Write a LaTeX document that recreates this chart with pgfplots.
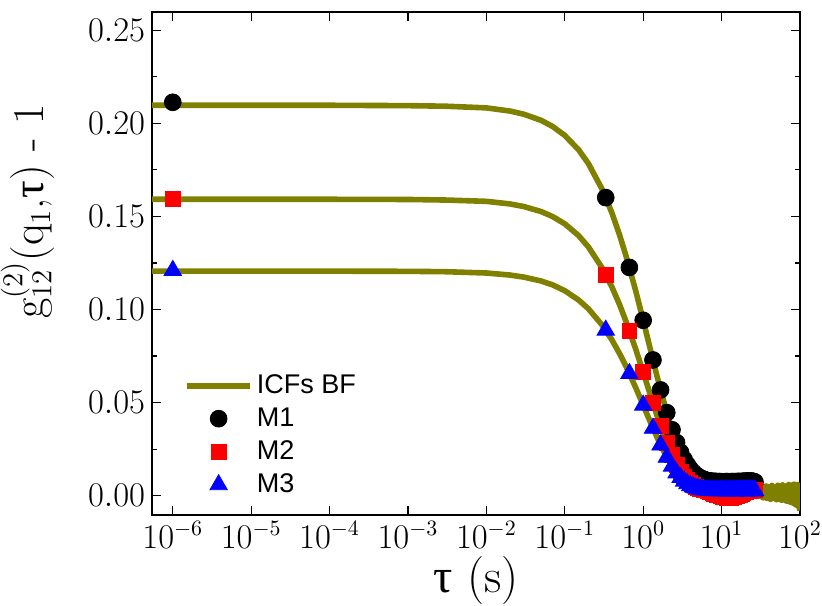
\documentclass[border=0pt]{standalone}
\usepackage{pgfplots}
\pgfplotsset{compat=1.18}
\usepackage{pgfplotstable}
\usepackage{fontspec}
\newfontfamily\legfont{Liberation Sans}
\newfontfamily\grk{Liberation Serif}
\definecolor{icf}{RGB}{128,128,0}

\pgfplotstableread{
t m1 m2 m3
1e-6 0.2113 0.1595 0.1210
0.333 0.1601 0.1188 0.0889
0.667 0.1226 0.0886 0.0656
1.000 0.0942 0.0663 0.0486
1.333 0.0729 0.0497 0.0362
1.667 0.0568 0.0375 0.0272
2.000 0.0446 0.0284 0.0206
2.333 0.0354 0.0217 0.0158
2.667 0.0285 0.0167 0.0122
3.000 0.0233 0.0130 0.0097
3.333 0.0194 0.0103 0.0078
3.667 0.0165 0.0083 0.0064
4.000 0.0142 0.0068 0.0054
4.333 0.0125 0.0057 0.0047
4.667 0.0113 0.0048 0.0041
5.000 0.0103 0.0042 0.0038
5.333 0.0096 0.0038 0.0035
5.667 0.0091 0.0034 0.0033
6.000 0.0087 0.0031 0.0031
6.333 0.0083 0.0028 0.0030
6.667 0.0081 0.0025 0.0029
7.000 0.0079 0.0021 0.0028
7.333 0.0078 0.0018 0.0029
7.667 0.0077 0.0014 0.0027
8.000 0.0076 0.0011 0.0028
8.333 0.0077 0.0008 0.0026
8.667 0.0075 0.0005 0.0027
9.000 0.0074 0.0003 0.0028
9.333 0.0076 0.0001 0.0026
9.667 0.0073 -0.0001 0.0027
10.000 0.0075 -0.0003 0.0028
10.333 0.0074 -0.0005 0.0027
10.667 0.0072 -0.0006 0.0026
11.000 0.0075 -0.0008 0.0028
11.333 0.0074 -0.0009 0.0027
11.667 0.0076 -0.0010 0.0026
12.000 0.0073 -0.0010 0.0028
12.333 0.0074 -0.0011 0.0027
12.667 0.0075 -0.0010 0.0026
13.000 0.0073 -0.0010 0.0027
13.333 0.0074 -0.0009 0.0028
13.667 0.0076 -0.0008 0.0027
14.000 0.0074 -0.0007 0.0026
14.333 0.0073 -0.0006 0.0027
14.667 0.0075 -0.0004 0.0028
15.000 0.0074 -0.0003 0.0026
15.333 0.0076 -0.0001 0.0027
15.667 0.0073 0.0000 0.0028
16.000 0.0075 0.0002 0.0027
16.333 0.0074 0.0003 0.0026
16.667 0.0077 0.0005 0.0027
17.000 0.0075 0.0006 0.0028
17.333 0.0073 0.0008 0.0027
17.667 0.0074 0.0009 0.0026
18.000 0.0076 0.0011 0.0028
18.333 0.0074 0.0012 0.0027
18.667 0.0075 0.0014 0.0026
19.000 0.0078 0.0015 0.0028
19.333 0.0076 0.0017 0.0027
19.667 0.0074 0.0018 0.0028
20.000 0.0075 0.0020 0.0026
20.333 0.0077 0.0021 0.0027
20.667 0.0076 0.0022 0.0028
21.000 0.0078 0.0023 0.0027
21.333 0.0077 0.0024 0.0029
21.667 0.0079 0.0025 0.0027
22.000 0.0077 0.0025 0.0028
22.333 0.0076 0.0026 0.0027
22.667 0.0078 0.0026 0.0029
23.000 0.0077 0.0027 0.0028
23.333 0.0075 0.0027 0.0027
23.667 0.0076 0.0028 0.0029
24.000 0.0078 0.0027 0.0028
24.333 0.0077 0.0028 0.0027
24.667 0.0075 0.0029 0.0028
25.000 0.0076 0.0028 0.0029
25.333 0.0077 0.0029 0.0027
25.667 0.0075 0.0028 0.0028
26.000 0.0074 0.0029 0.0027
26.333 0.0072 0.0028 0.0026
26.667 0.0073 0.0029 0.0027
}\markdata

\pgfplotstableread{
t f1 f2 f3
5.46e-7 0.2097 0.1592 0.1206
1e-6 0.2097 0.1592 0.1206
1e-5 0.2097 0.1592 0.1206
1e-4 0.2097 0.1592 0.1206
1e-3 0.2095 0.1591 0.1205
3e-3 0.2092 0.1588 0.1203
0.01 0.2083 0.1581 0.1196
0.02 0.2066 0.1567 0.1185
0.03 0.2049 0.1553 0.1174
0.05 0.2016 0.1526 0.1153
0.07 0.1983 0.1499 0.1132
0.1 0.1935 0.1460 0.1101
0.15 0.1858 0.1397 0.1051
0.2 0.1784 0.1336 0.1004
0.3 0.1645 0.1223 0.0916
0.4 0.1518 0.1120 0.0836
0.5 0.1400 0.1026 0.0763
0.6 0.1292 0.0939 0.0697
0.8 0.1103 0.0789 0.0582
1.0 0.0942 0.0663 0.0486
1.2 0.0807 0.0558 0.0407
1.5 0.0642 0.0431 0.0314
2 0.0446 0.0284 0.0206
2.5 0.0318 0.0190 0.0139
3 0.0233 0.0130 0.0097
4 0.0142 0.0068 0.0054
5 0.0103 0.0042 0.0038
6 0.0087 0.0032 0.0031
8 0.0076 0.0027 0.0028
10 0.0074 0.0025 0.0027
15 0.0074 0.0020 0.0027
20 0.0073 0.0022 0.0027
25 0.0070 0.0024 0.0027
29 0.0065 0.0025 0.0020
30 0.0040 0.0008 0.0030
31 0.0058 0.0035 0.0002
32 0.0022 -0.0005 0.0040
33 0.0050 0.0030 -0.0008
34 0.0010 -0.0012 0.0035
35 0.0046 0.0036 0.0000
36 0.0015 -0.0008 0.0042
37 0.0052 0.0028 -0.0010
38 0.0000 -0.0015 0.0038
40 0.0048 0.0034 -0.0005
42 0.0008 -0.0020 0.0045
44 0.0055 0.0030 -0.0015
46 -0.0008 -0.0012 0.0040
48 0.0045 0.0038 -0.0008
50 0.0005 -0.0022 0.0048
52 0.0056 0.0032 -0.0020
54 -0.0010 -0.0018 0.0042
56 0.0050 0.0040 -0.0012
58 0.0002 -0.0025 0.0050
60 0.0058 0.0035 -0.0022
63 -0.0015 -0.0020 0.0046
66 0.0052 0.0045 -0.0028
69 -0.0005 -0.0030 0.0052
72 0.0060 0.0040 -0.0025
75 -0.0020 -0.0035 0.0055
78 0.0055 0.0048 -0.0032
81 -0.0025 -0.0040 0.0058
84 0.0062 0.0045 -0.0038
87 -0.0030 -0.0048 0.0055
90 0.0058 0.0050 -0.0045
93 -0.0040 -0.0055 0.0060
96 0.0050 0.0040 -0.0050
98 -0.0055 -0.0065 0.0035
100 -0.0075 -0.0080 -0.0070
}\fitdata

\begin{document}
\begin{tikzpicture}
\begin{axis}[
  scale only axis,
  width=323.5pt, height=251pt,
  xmode=log, log basis x=10,
  xmin=5.46e-7, xmax=100,
  ymin=-0.0102, ymax=0.2598,
  xtick={1e-6,1e-5,1e-4,1e-3,1e-2,1e-1,1,10,100},
  ytick={0,0.05,0.1,0.15,0.2,0.25},
  minor ytick={0.025,0.075,0.125,0.175,0.225},
  scaled y ticks=false,
  yticklabel style={/pgf/number format/fixed,
    /pgf/number format/fixed zerofill,
    /pgf/number format/precision=2},
  tick align=inside,
  major tick length=4.5pt, minor tick length=2.5pt,
  axis line style={line width=0.9pt},
  every tick/.style={black, line width=0.6pt},
  tick label style={font=\fontsize{16}{16}\selectfont},
  xlabel={{\grk τ} (s)},
  ylabel={$\mathrm{g}^{(2)}_{12}$(q$_{1}$,{\grk τ}) - 1},
  every axis x label/.style={at={(axis description cs:0.5,0)}, anchor=base, yshift=-39pt,
    font=\fontsize{24}{26}\selectfont},
  every axis y label/.style={at={(axis description cs:-0.1495,0.603)}, rotate=90, anchor=south,
    font=\fontsize{22}{24}\selectfont, inner sep=0pt},
  legend cell align=left,
  legend style={draw=none, fill=none, at={(0.04,0.295)}, anchor=north west,
    font=\legfont\fontsize{13.5}{15}\selectfont, row sep=1.6pt},
  legend image code/.code={\draw[mark repeat=2,mark phase=2]
    plot coordinates {(0cm,0cm) (0.55cm,0cm) (1.1cm,0cm)};},
]
\addplot[icf, line width=2.8pt, line join=round, no marks] table[x=t,y=f1] {\fitdata};
\addlegendentry{ICFs BF}
\addplot[icf, line width=2.8pt, line join=round, no marks, forget plot] table[x=t,y=f2] {\fitdata};
\addplot[icf, line width=2.8pt, line join=round, no marks, forget plot] table[x=t,y=f3] {\fitdata};
\addplot[only marks, mark=*, mark size=4.2pt, black, mark options={fill=black, draw=black}] table[x=t,y=m1] {\markdata};
\addlegendentry{M1}
\addplot[only marks, mark=square*, mark size=3.7pt, red, mark options={fill=red, draw=red}] table[x=t,y=m2] {\markdata};
\addlegendentry{M2}
\addplot[only marks, mark=triangle*, mark size=5pt, blue, mark options={fill=blue, draw=blue}] table[x=t,y=m3] {\markdata};
\addlegendentry{M3}
\end{axis}
\pgfresetboundingbox
\path ([shift={(-76pt,-45.5pt)}]current axis.south west) rectangle ([shift={(11pt,6pt)}]current axis.north east);
\end{tikzpicture}
\end{document}
